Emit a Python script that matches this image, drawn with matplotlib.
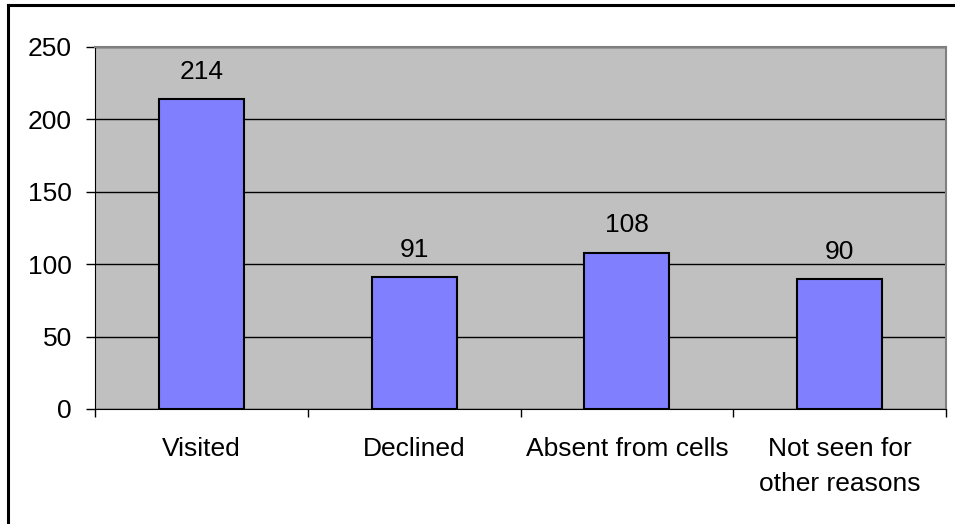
import matplotlib.pyplot as plt
from matplotlib.lines import Line2D
import numpy as np

plt.rcParams['font.family'] = ['Liberation Sans', 'DejaVu Sans']

categories = ['Visited', 'Declined', 'Absent from cells', 'Not seen for\nother reasons']
counts = [214, 91, 108, 90]
y_ticks = [0, 50, 100, 150, 200, 250]

fig = plt.figure(figsize=(9.55, 5.24), dpi=100)
ax = fig.add_axes([95/955, 1-409/524, 851/955, 362/524])

x = np.arange(len(categories))
ax.set_facecolor('#C0C0C0')
ax.set_axisbelow(True)
ax.yaxis.grid(True, color='black', lw=1)
bars = ax.bar(x, counts, width=0.4, color='#8080FF', edgecolor='black', lw=1.5, zorder=3)

for xi, v in zip(x, counts):
    ax.annotate(str(v), (xi, v), xytext=(0, 14.5), textcoords='offset points',
                ha='center', va='baseline', fontsize=19)

ax.set_xlim(-0.5, len(categories) - 0.5)
ax.set_ylim(0, 250)
ax.set_yticks(y_ticks)
ax.tick_params(axis='y', length=6.5, width=1, pad=10, labelsize=19)

# boundary ticks, labels at category centres
ax.set_xticks(np.arange(len(categories) + 1) - 0.5)
ax.set_xticklabels([])
ax.tick_params(axis='x', which='major', length=6, width=1)
ax.set_xticks(x, categories, minor=True)
ax.tick_params(axis='x', which='minor', length=0, pad=20.5, labelsize=19)
for lbl in ax.get_xticklabels(minor=True):
    lbl.set_linespacing(1.55)

ax.spines['top'].set_color('#808080')
ax.spines['right'].set_color('#808080')
ax.spines['top'].set_linewidth(1.5)
ax.spines['right'].set_linewidth(1.5)
ax.spines['left'].set_color('black')
ax.spines['bottom'].set_color('black')

# outer border of the chart
fig.add_artist(Line2D([7.5/955, 1.0], [1-5/524, 1-5/524], color='black', lw=2.2, transform=fig.transFigure))
fig.add_artist(Line2D([7.5/955, 7.5/955], [0.0, 1-5/524], color='black', lw=2.2, transform=fig.transFigure))

fig.savefig('out.png', dpi=100)
